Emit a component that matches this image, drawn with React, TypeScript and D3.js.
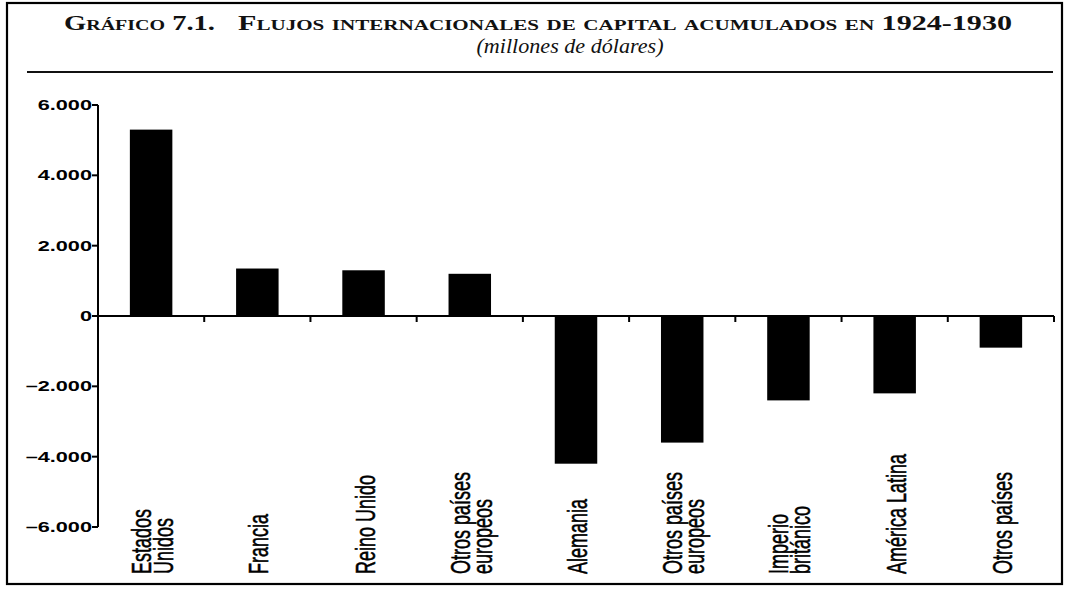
import React from "react";
import * as d3 from "d3";

const categoryLines: string[][] = [
  ["Estados", "Unidos"],
  ["Francia"],
  ["Reino Unido"],
  ["Otros países", "europeos"],
  ["Alemania"],
  ["Otros países", "europeos"],
  ["Imperio", "británico"],
  ["América Latina"],
  ["Otros países"],
];
const flows: number[] = [5300, 1350, 1300, 1200, -4200, -3600, -2400, -2200, -900];
const yTickValues: number[] = [6000, 4000, 2000, 0, -2000, -4000, -6000];
const yTickLabels: string[] = ["6.000", "4.000", "2.000", "0", "–2.000", "–4.000", "–6.000"];
const titleLabel = "Gráfico 7.1.";
const titleText = "Flujos internacionales de capital acumulados en 1924-1930";
const subtitleText = "(millones de dólares)";

export default function App() {
  const W = 1067;
  const H = 589;
  const axisX = 98;
  const axisRight = 1054;
  const y = d3.scaleLinear().domain([-6000, 6000]).range([527, 105]);
  const x = d3
    .scaleBand<number>()
    .domain(d3.range(flows.length))
    .range([axisX, axisRight])
    .paddingInner(0.6)
    .paddingOuter(0.3);
  const bw = x.bandwidth();
  const step = x.step();
  const y0 = y(0);
  const sx = 1.55;
  const serif = "'Liberation Serif', 'DejaVu Serif', serif";
  const sans = "'Liberation Sans', Arial, sans-serif";

  return (
    <svg
      width={W}
      height={H}
      style={{ position: "absolute", left: 0, top: 0, background: "#fff" }}
    >
      <rect x={7} y={3} width={1055} height={581} fill="#fff" stroke="#000" strokeWidth={2.2} />
      <text
        x={64}
        y={30}
        fontFamily={serif}
        fontSize={20}
        fontWeight={700}
        style={{ fontVariant: "small-caps" }}
        textLength={151}
        lengthAdjust="spacingAndGlyphs"
        fill="#111"
      >
        {titleLabel}
      </text>
      <text
        x={238}
        y={30}
        fontFamily={serif}
        fontSize={20}
        fontWeight={700}
        style={{ fontVariant: "small-caps" }}
        textLength={774}
        lengthAdjust="spacingAndGlyphs"
        fill="#111"
      >
        {titleText}
      </text>
      <text
        x={570}
        y={53}
        textAnchor="middle"
        fontFamily={serif}
        fontSize={20}
        fontStyle="italic"
        textLength={187}
        lengthAdjust="spacingAndGlyphs"
        fill="#111"
      >
        {subtitleText}
      </text>
      <line x1={27} x2={1053} y1={72} y2={72} stroke="#111" strokeWidth={2} />

      {/* bars */}
      {flows.map((v, i) => (
        <rect
          key={i}
          x={x(i)}
          y={Math.min(y(v), y0)}
          width={bw}
          height={Math.abs(y(v) - y0)}
          fill="#000"
        />
      ))}

      {/* y axis */}
      <line x1={axisX} x2={axisX} y1={y(6000)} y2={y(-6000)} stroke="#000" strokeWidth={2} />
      {yTickValues.map((t, i) => (
        <g key={t}>
          <line x1={axisX - 6} x2={axisX} y1={y(t)} y2={y(t)} stroke="#000" strokeWidth={2} />
          <text
            transform={`translate(${axisX - 6},${y(t) + 5}) scale(${sx},1)`}
            textAnchor="end"
            fontFamily={sans}
            fontWeight={700}
            fontSize={14}
            fill="#000"
          >
            {yTickLabels[i]}
          </text>
        </g>
      ))}

      {/* zero line with category ticks */}
      <line x1={axisX} x2={axisRight} y1={y0} y2={y0} stroke="#000" strokeWidth={2} />
      {flows.map((_, i) => {
        const bx = (x(i) as number) + bw / 2 + step / 2;
        return <line key={i} x1={bx} x2={bx} y1={y0} y2={y0 + 6} stroke="#000" strokeWidth={2} />;
      })}

      {/* category labels */}
      {categoryLines.map((lines, i) => {
        const cx = (x(i) as number) + bw / 2;
        const n = lines.length;
        return lines.map((ln, j) => {
          const bx = cx + 11 + (j - (n - 1) / 2) * 22;
          return (
            <text
              key={`${i}-${j}`}
              transform={`translate(${bx},574) scale(${sx},1) rotate(-90)`}
              fontFamily={sans}
              fontSize={18}
              fill="#000"
              stroke="#000"
              strokeWidth={0.35}
            >
              {ln}
            </text>
          );
        });
      })}
    </svg>
  );
}
